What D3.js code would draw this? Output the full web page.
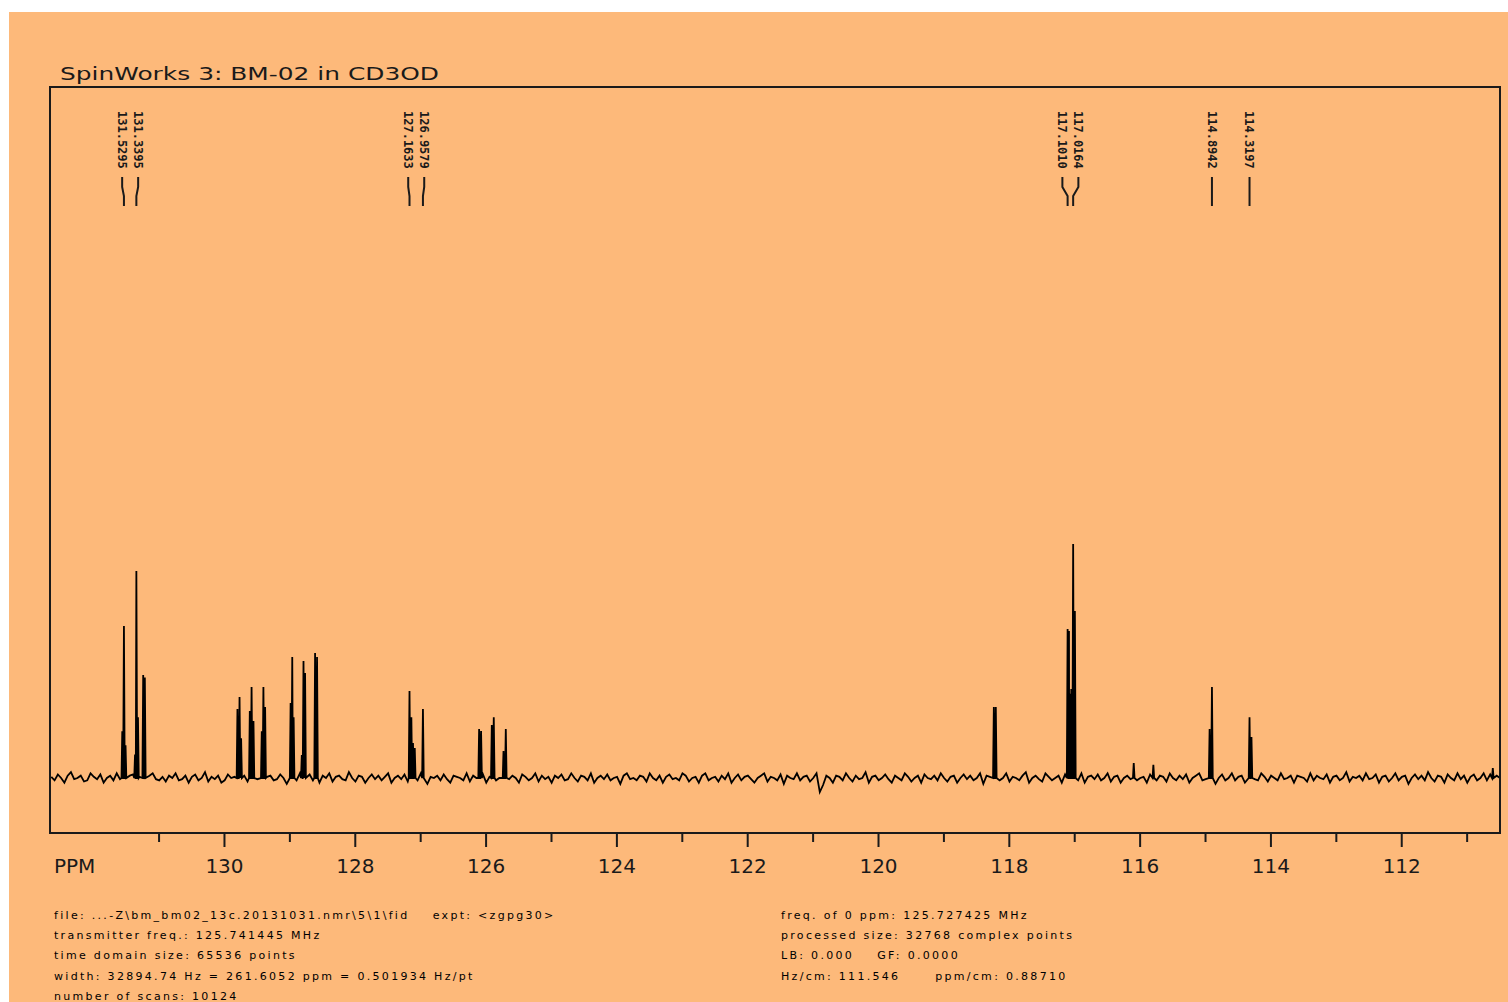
<!DOCTYPE html>
<html>
<head>
<meta charset="utf-8">
<script src="https://cdn.jsdelivr.net/npm/d3@7"></script>
<style>
    html, body { margin: 0; padding: 0; background: #fff; }
    svg { display: block; }
    text { white-space: pre; }
</style>
</head>
<body>
<div id="chart"></div>
<script>
// ---- data ----
const title = "SpinWorks 3: BM-02 in CD3OD"
const axisName = "PPM"
const ppmDomain = [132.66, 110.49]
const majorTicks = [130, 128, 126, 124, 122, 120, 118, 116, 114, 112]
const minorTicks = [131, 129, 127, 125, 123, 121, 119, 117, 115, 113, 111]

// picked peaks shown at the top
const peakLabels = ["131.5295", "131.3395", "127.1633", "126.9579",
    "117.1010", "117.0164", "114.8942", "114.3197"]

// line tops (ppm, height; baseline = 0, tallest line = 100)
const peakPpm = [
    131.555, 131.5295, 131.505, 131.36, 131.3395, 131.315, 131.235, 131.21,
    129.794, 129.762, 129.738, 129.605, 129.578, 129.549, 129.422, 129.397, 129.371,
    128.981, 128.956, 128.935, 128.81, 128.784, 128.76, 128.607, 128.577,
    127.1633, 127.135, 127.11, 127.083, 126.9579,
    126.099, 126.069, 125.905, 125.875, 125.726, 125.691,
    118.229, 118.199, 117.101, 117.08, 117.065, 117.045, 117.0164, 116.99,
    116.09, 115.79, 114.93, 114.8942, 114.3197, 114.29, 110.6
]
const peakHeight = [
    20, 65, 14, 10, 88.5, 26, 44, 43,
    29.5, 34.6, 17, 28.6, 38.9, 24.4, 20, 38.9, 30.3,
    32, 51.7, 26, 9.8, 50, 44.9, 53.4, 51.7,
    37.2, 26, 15, 12.8, 29.5,
    20.9, 20.1, 22.6, 26, 11.5, 20.9,
    30.3, 30.3, 63.7, 62.8, 36, 38, 100, 71.4,
    6.4, 5.6, 20.9, 38.9, 26, 17.5, 4.3
]

// baseline noise, one reading every 0.05 ppm starting at 132.64
const noiseStart = 132.64
const noiseStep = 0.05
const noise = [
    0.5, -1, 1.5, 0, -2, 1, 2.5, -0.5, 0, 1, -1.5, -1, 2, 0.5, -0.5, 1.5, -2, 0, 1, -1,
    2, -0.5, 0, -1.5, 1, 1.5, -1, 0.5, -2.5, 0, 1, 2, -0.5, -1, 0.5, -1.5, 1, 0, 2, -1,
    -0.5, 1, -2, 0.5, 1.5, -1, 0, 2.5, -1.5, 0.5, -0.5, 1, -2, -1, 1.5, 0, 0.5, -1, 2, 1,
    -1.5, 0, 1, -0.5, 2, -2, 0.5, 1, -1, -0.5, 1.5, 0, -2.5, 1, 0.5, -1, 2, -0.5, 0, 1.5,
    -1, 0.5, -2, 1, 0, 2, -1.5, 0.5, 1, -0.5, -1, 2.5, 0, -1.5, 1, 0.5, -2, 0, 1.5, -0.5,
    1, -1, 0.5, 2, -2, 0, 1, -0.5, 1.5, -1.5, 0, 0.5, -1, 2, 1, -2.5, 0.5, 0, 1, -1,
    1.5, -0.5, -2, 1, 0.5, 0, -1, 2, -1.5, 1, 0, -0.5, 1.5, -2, 0.5, 1, -1, 0, 2.5, -1,
    -0.5, 1, 0, -2, 1.5, 0.5, -1, 0, 2, -1.5, 1, -0.5, 0.5, -2, 1, 0, 1.5, -1, -0.5, 2,
    0, -1.5, 1, 0.5, -1, 2, -2, 0, 1, -0.5, 1.5, -1, 0, 0.5, -2.5, 1, 2, -0.5, 0, -1,
    1, 0.5, -1.5, 2, 0, -1, 1, -2, 0.5, 1.5, -0.5, 0, -1, 2, 1, -1.5, 0, 0.5, -2, 1,
    2, -1, 0, 0.5, -1.5, 1, -0.5, 2, -2, 0, 1.5, -1, 0.5, 1, -0.5, -2, 0, 1, 2, -1.5,
    0.5, 0, -1, 1.5, -2.5, 1, 0, -0.5, 2, -1, 0.5, 1, -1.5, 0, 2, -6, -3, 1, 0, -2,
    1, 0.5, -1, 2, 0, -1.5, 1, -0.5, 0, 2.5, -2, 0.5, 1, -1, 0, 1.5, -0.5, -2, 1, 0,
    -1, 2, 0.5, -1.5, 0, 1, -2, 1.5, 0, -0.5, 1, -1, 2, 0, -1.5, 0.5, 1, -2, 0, 1.5,
    -0.5, 1, -1, 0, 2, -2.5, 1, 0.5, -0.5, 1.5, -1, 0, 2, -1.5, 0.5, 0, -1, 1, 2.5, -2,
    0, 1, -0.5, -1.5, 2, 0.5, -1, 0, 1, -2, 1.5, -0.5, 0, 1, -1, 2, -2, 0.5, 1, -0.5,
    1.5, -1, 0, 2, -1.5, 0.5, 1, -2, 0, 1, -0.5, 2.5, -1, 0, 0.5, -2, 1.5, 0, -1, 1,
    0.5, -1.5, 2, 0, -1, 1, -0.5, 1.5, -2, 0, 1, 2, -1, -0.5, 0.5, 1, -2.5, 0, 1.5, -1,
    0, 2, -1, 0.5, 1, -2, 0, 1.5, -0.5, -1, 2, 0.5, -1.5, 1, 0, -1, 2, -0.5, 0, 1,
    -2, 1, 0.5, 0, -1.5, 2, -1, 1, 0, -0.5, 1.5, -2, 0.5, 1, -1, 0, 2.5, -1.5, 0.5, 0,
    1, -1, 2, -0.5, 0, 1.5, -2, 0.5, 1, -1.5, 0, 2, -1, 0.5, 1, -2.5, 0, 1.5, -0.5, 1,
    -1, 2.5, 0, -1.5, 1, 0.5, -2, 1.5, 0, -1, 2, -0.5, 1, -2, 0.5, 1.5, -1, 0, 2, -1,
    1.5, -0.5, 1, 0
]

const footerLeft = [
    "file: ...-Z\\bm_bm02_13c.20131031.nmr\\5\\1\\fid    expt: <zgpg30>",
    "transmitter freq.: 125.741445 MHz",
    "time domain size: 65536 points",
    "width: 32894.74 Hz = 261.6052 ppm = 0.501934 Hz/pt",
    "number of scans: 10124"
]
const footerRight = [
    "freq. of 0 ppm: 125.727425 MHz",
    "processed size: 32768 complex points",
    "LB: 0.000    GF: 0.0000",
    "Hz/cm: 111.546      ppm/cm: 0.88710"
]

// ---- drawing ----
const width = 1508
const height = 1002
const bg = "#fdb97a"
const ink = "#1a1a1a"
const plot = { left: 50, top: 87, right: 1500, bottom: 833 }

const x = d3.scaleLinear().domain(ppmDomain).range([plot.left, plot.right])
const y = d3.scaleLinear().domain([-23.5, 295.3]).range([plot.bottom, plot.top])

const svg = d3.select("#chart").append("svg")
    .attr("width", width)
    .attr("height", height)

svg.append("rect")
    .attr("x", 9).attr("y", 12)
    .attr("width", width - 9).attr("height", height - 12)
    .attr("fill", bg)

svg.append("text")
    .attr("x", 60).attr("y", 80)
    .attr("font-family", "DejaVu Sans")
    .attr("font-size", 18)
    .attr("textLength", 379)
    .attr("lengthAdjust", "spacingAndGlyphs")
    .attr("fill", ink)
    .text(title)

svg.append("clipPath").attr("id", "plot-clip")
    .append("rect")
    .attr("x", plot.left).attr("y", plot.top)
    .attr("width", plot.right - plot.left).attr("height", plot.bottom - plot.top)

// spectrum: noise readings plus each line as a narrow spike
const hw = 0.012
const points = []
noise.forEach((v, i) => {
    const ppm = noiseStart - i * noiseStep
    if (peakPpm.some(p => Math.abs(p - ppm) < 0.025)) return
    points.push([ppm, v])
})
peakPpm.forEach((p, i) => {
    points.push([p + hw, 0], [p, peakHeight[i]], [p - hw, 0])
})
points.sort((a, b) => b[0] - a[0])

svg.append("path")
    .attr("clip-path", "url(#plot-clip)")
    .attr("d", d3.line().x(d => x(d[0])).y(d => y(d[1]))(points))
    .attr("fill", "none")
    .attr("stroke", "#000")
    .attr("stroke-width", 1.8)

// frame
svg.append("rect")
    .attr("x", plot.left).attr("y", plot.top)
    .attr("width", plot.right - plot.left).attr("height", plot.bottom - plot.top)
    .attr("fill", "none")
    .attr("stroke", ink)
    .attr("stroke-width", 2)

// axes
const major = svg.append("g")
    .attr("transform", `translate(0,${plot.bottom})`)
    .call(d3.axisBottom(x).tickValues(majorTicks).tickSize(14).tickPadding(12).tickFormat(d3.format("d")))
const minor = svg.append("g")
    .attr("transform", `translate(0,${plot.bottom})`)
    .call(d3.axisBottom(x).tickValues(minorTicks).tickSize(9).tickFormat(""))
for (const g of [major, minor]) {
    g.select(".domain").remove()
    g.selectAll("line").attr("stroke", ink).attr("stroke-width", 2)
}
major.selectAll("text")
    .attr("font-family", "DejaVu Sans")
    .attr("font-size", 20)
    .attr("fill", ink)

svg.append("text")
    .attr("x", 54).attr("y", 873)
    .attr("font-family", "DejaVu Sans")
    .attr("font-size", 20)
    .attr("fill", ink)
    .text(axisName)

// peak labels, spread apart where they crowd
const minGap = 16
const labels = peakLabels.map(t => ({ text: t, px: x(+t) }))
    .sort((a, b) => a.px - b.px)
const clusters = []
labels.forEach(l => {
    const last = clusters[clusters.length - 1]
    if (last && l.px - last[last.length - 1].px < minGap) last.push(l)
    else clusters.push([l])
})
clusters.forEach(c => {
    const mid = d3.mean(c, d => d.px)
    c.forEach((l, i) => { l.lx = mid + (i - (c.length - 1) / 2) * minGap })
})

const lab = svg.append("g")
lab.selectAll("text").data(labels).join("text")
    .attr("transform", d => `translate(${d.lx},111) rotate(90)`)
    .attr("dy", "0.36em")
    .attr("font-family", "DejaVu Sans Mono")
    .attr("font-weight", "bold")
    .attr("font-size", 12)
    .attr("fill", ink)
    .text(d => d.text)
lab.selectAll("path").data(labels).join("path")
    .attr("d", d => `M${d.lx},177V187L${d.px},196V206`)
    .attr("fill", "none")
    .attr("stroke", ink)
    .attr("stroke-width", 2)

// acquisition info
const foot = svg.append("g")
    .attr("font-family", "DejaVu Sans")
    .attr("font-size", 11)
    .attr("letter-spacing", 2.3)
    .attr("fill", "#000")
foot.selectAll(".fl").data(footerLeft).join("text")
    .attr("class", "fl")
    .attr("x", 54)
    .attr("y", (d, i) => 919 + i * 20.2)
    .text(d => d)
foot.selectAll(".fr").data(footerRight).join("text")
    .attr("class", "fr")
    .attr("x", 781)
    .attr("y", (d, i) => 919 + i * 20.2)
    .text(d => d)
</script>
</body>
</html>
